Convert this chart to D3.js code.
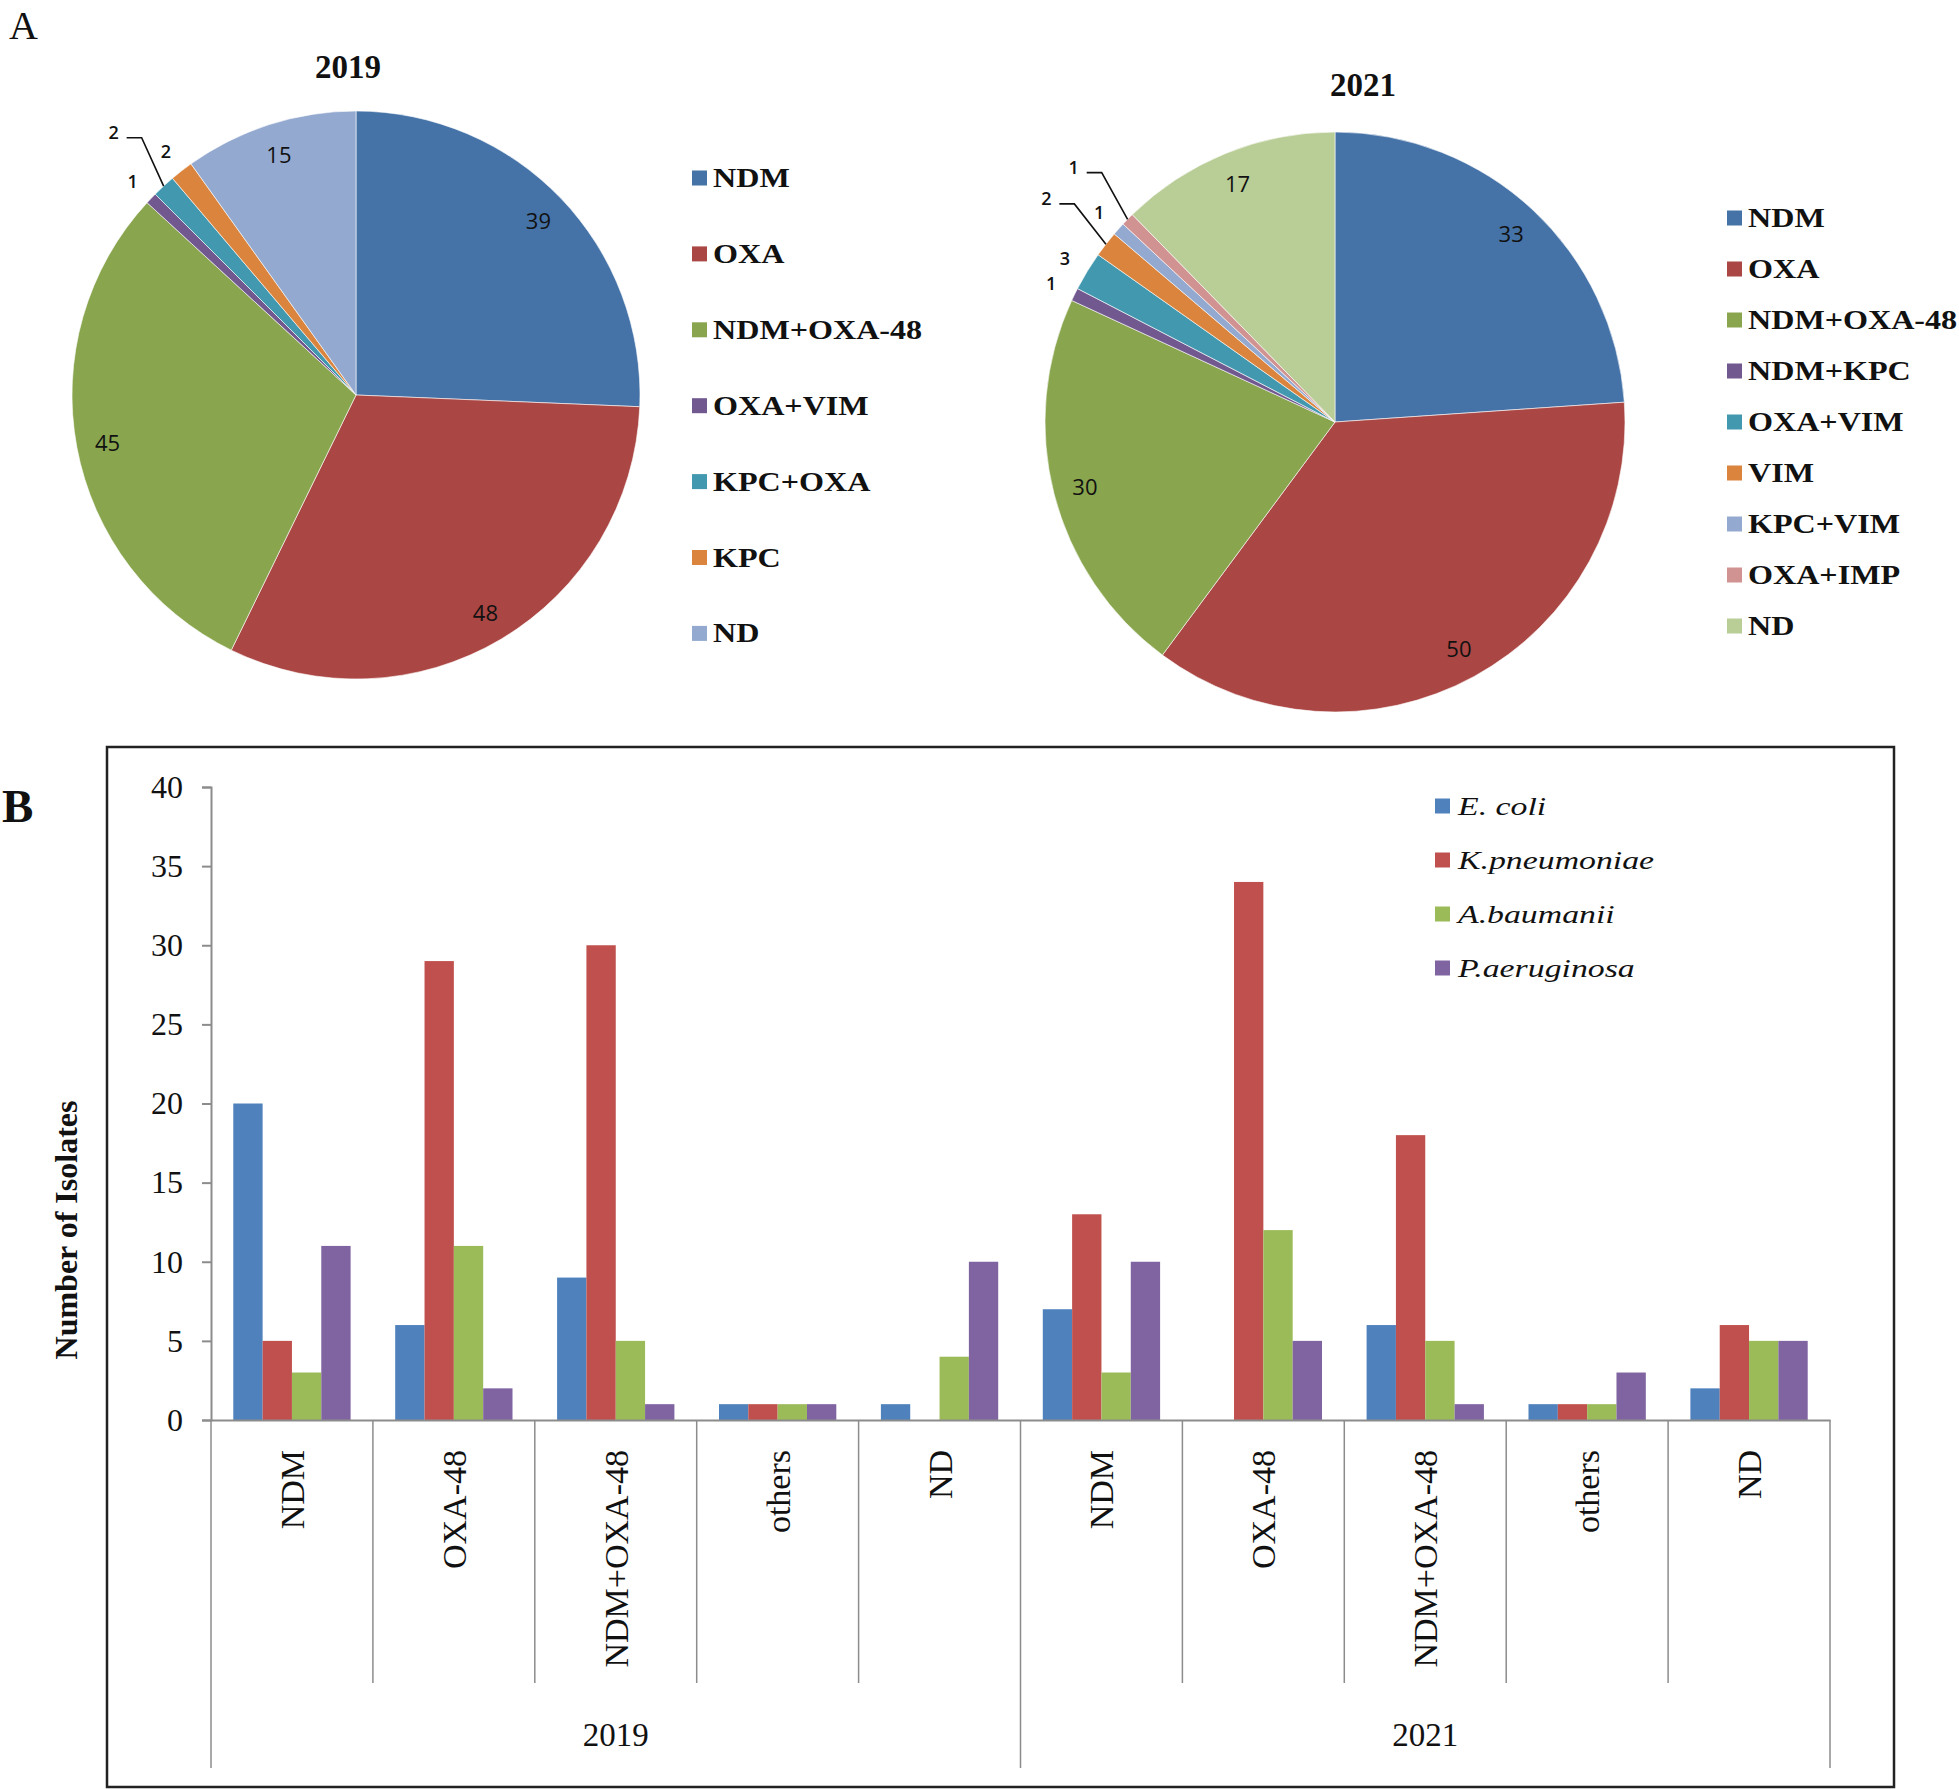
<!DOCTYPE html>
<html>
<head>
<meta charset="utf-8">
<script src="https://cdn.jsdelivr.net/npm/d3@7"></script>
<style>
  html, body { margin: 0; padding: 0; background: #fff; overflow: hidden; }
  svg { display: block; }
</style>
</head>
<body>
<script>
// ---------------- DATA ----------------
const pie2019Labels = ["NDM", "OXA", "NDM+OXA-48", "OXA+VIM", "KPC+OXA", "KPC", "ND"];
const pie2019Values = [39, 48, 45, 1, 2, 2, 15];
const pie2019Colors = ["#4572A7", "#AA4643", "#89A54E", "#71588F", "#4198AF", "#DB843D", "#93A9CF"];
const pie2019Leaders = ["KPC+OXA"];

const pie2021Labels = ["NDM", "OXA", "NDM+OXA-48", "NDM+KPC", "OXA+VIM", "VIM", "KPC+VIM", "OXA+IMP", "ND"];
const pie2021Values = [33, 50, 30, 1, 3, 2, 1, 1, 17];
const pie2021Colors = ["#4572A7", "#AA4643", "#89A54E", "#71588F", "#4198AF", "#DB843D", "#93A9CF", "#D19392", "#B9CD96"];
const pie2021Leaders = ["VIM", "OXA+IMP"];

const barYears = ["2019", "2021"];
const barGenes = ["NDM", "OXA-48", "NDM+OXA-48", "others", "ND"];
const species = ["E. coli", "K.pneumoniae", "A.baumanii", "P.aeruginosa"];
const speciesColors = ["#4F81BD", "#C0504D", "#9BBB59", "#8064A2"];
// values per category: 2019 NDM, OXA-48, NDM+OXA-48, others, ND, 2021 NDM, OXA-48, NDM+OXA-48, others, ND
const ecoliValues = [20, 6, 9, 1, 1, 7, 0, 6, 1, 2];
const kpneuValues = [5, 29, 30, 1, 0, 13, 34, 18, 1, 6];
const abaumValues = [3, 11, 5, 1, 4, 3, 12, 5, 1, 5];
const paerValues = [11, 2, 1, 1, 10, 10, 5, 1, 3, 5];
const yTicks = [0, 5, 10, 15, 20, 25, 30, 35, 40];

// ---------------- SETUP ----------------
const W = 1959, H = 1790;
const svg = d3.select("body").append("svg").attr("width", W).attr("height", H);
const SERIF = "'Liberation Serif', 'Times New Roman', serif";
const SANS = "'Open Sans', 'Liberation Sans', sans-serif";

function stext(parent, x, y, str, o) {
  o = o || {};
  const t = parent.append("text")
    .attr("transform", `translate(${x},${y})` + (o.rot ? ` rotate(${o.rot})` : "") + ` scale(${o.sx || 1},${o.sy || 1})`)
    .attr("font-family", o.family || SERIF)
    .attr("font-size", o.size || 20)
    .attr("font-weight", o.weight || "normal")
    .attr("font-style", o.style || "normal")
    .attr("text-anchor", o.anchor || "start")
    .attr("fill", o.fill || "#111")
    .text(str);
  if (o.baseline) t.attr("dominant-baseline", o.baseline);
  return t;
}

// ---------------- PANEL A ----------------
stext(svg, 9, 39, "A", { size: 40 });

function drawPie(cfg) {
  const g = svg.append("g").attr("transform", `translate(${cfg.cx},${cfg.cy})`);
  const data = cfg.labels.map((l, i) => ({ label: l, value: cfg.values[i], color: cfg.colors[i] }));
  const arcs = d3.pie().sort(null).value(d => d.value)(data);
  const arc = d3.arc().innerRadius(0).outerRadius(cfg.r);
  g.selectAll("path.slice").data(arcs).join("path")
    .attr("class", "slice")
    .attr("d", arc)
    .attr("fill", d => d.data.color)
    .attr("stroke", "#ffffff")
    .attr("stroke-width", 0.6);

  arcs.forEach(a => {
    const mid = (a.startAngle + a.endAngle) / 2;
    const dir = [Math.sin(mid), -Math.cos(mid)];
    const small = a.data.value < 5;
    const leader = cfg.leaders.includes(a.data.label);
    const k = small ? (leader ? 1.26 : 1.09) : 0.89;
    const lx = dir[0] * cfg.r * k, ly = dir[1] * cfg.r * k;
    stext(g, lx, ly, String(a.data.value), {
      family: SANS, size: small ? 18 : 22, anchor: "middle", baseline: "central",
      fill: "#111", weight: small ? "600" : "500"
    });
    if (leader) {
      const ex = dir[0] * cfg.r, ey = dir[1] * cfg.r;
      g.append("path")
        .attr("d", `M${lx + 13},${ly + 6}L${lx + 28},${ly + 6}L${ex},${ey}`)
        .attr("fill", "none").attr("stroke", "#111").attr("stroke-width", 1.6);
    }
  });

  stext(svg, cfg.titleX, cfg.titleY, cfg.title, { size: 33, weight: "bold", anchor: "middle" });

  const lg = svg.append("g");
  cfg.labels.forEach((l, i) => {
    const y = cfg.legY0 + i * cfg.legStep;
    lg.append("rect").attr("x", cfg.legX).attr("y", y - 7.5).attr("width", 15).attr("height", 15)
      .attr("fill", cfg.colors[i]);
    stext(lg, cfg.legX + 21, y + 9, l, { size: 27, weight: "bold", sx: 1.19 });
  });
}

drawPie({
  cx: 356, cy: 395, r: 284, labels: pie2019Labels, values: pie2019Values, colors: pie2019Colors,
  leaders: pie2019Leaders, title: "2019", titleX: 348, titleY: 78,
  legX: 692, legY0: 178, legStep: 75.9
});
drawPie({
  cx: 1335, cy: 422, r: 290, labels: pie2021Labels, values: pie2021Values, colors: pie2021Colors,
  leaders: pie2021Leaders, title: "2021", titleX: 1363, titleY: 96,
  legX: 1727, legY0: 218, legStep: 51
});

// ---------------- PANEL B ----------------
stext(svg, 2, 822, "B", { size: 47, weight: "bold" });

svg.append("rect").attr("x", 107).attr("y", 747).attr("width", 1787).attr("height", 1040)
  .attr("fill", "none").attr("stroke", "#222").attr("stroke-width", 2.5);

const plotL = 211, plotR = 1830, y0px = 1420, y40px = 787;
const categories = [];
barYears.forEach(y => barGenes.forEach(gn => categories.push(y + "|" + gn)));
const seriesValues = [ecoliValues, kpneuValues, abaumValues, paerValues];

const x0 = d3.scaleBand().domain(categories).range([plotL, plotR]).padding(0);
const bw = x0.bandwidth();
const x1 = d3.scaleBand().domain(species).range([bw * 0.1377, bw * 0.8623]).padding(0);
const y = d3.scaleLinear().domain([0, 40]).range([y0px, y40px]);

const AX = "#8c8c8c";

// bars
const bg = svg.append("g");
categories.forEach((c, ci) => {
  species.forEach((s, si) => {
    const v = seriesValues[si][ci];
    if (v <= 0) return;
    bg.append("rect")
      .attr("x", x0(c) + x1(s))
      .attr("y", y(v))
      .attr("width", x1.bandwidth())
      .attr("height", y(0) - y(v))
      .attr("fill", speciesColors[si]);
  });
});

// y axis
const yAxis = svg.append("g").attr("transform", `translate(${plotL},0)`)
  .call(d3.axisLeft(y).tickValues(yTicks).tickSize(9).tickPadding(19).tickFormat(d3.format("d")));
yAxis.select(".domain").attr("stroke", AX).attr("stroke-width", 2);
yAxis.selectAll(".tick line").attr("stroke", AX).attr("stroke-width", 2);
yAxis.selectAll(".tick text").attr("font-family", SERIF).attr("font-size", 32).attr("fill", "#111");

// x axis baseline
const xAxis = svg.append("g").attr("transform", `translate(0,${y0px})`)
  .call(d3.axisBottom(x0).tickSize(0).tickFormat(""));
xAxis.select(".domain").attr("stroke", AX).attr("stroke-width", 2);

// separators
const sepG = svg.append("g");
categories.forEach((c, i) => {
  const xs = x0(c);
  const outer = i % barGenes.length === 0;
  sepG.append("line").attr("x1", xs).attr("x2", xs).attr("y1", y0px).attr("y2", outer ? 1768 : 1683)
    .attr("stroke", AX).attr("stroke-width", 1.5);
});
sepG.append("line").attr("x1", plotR).attr("x2", plotR).attr("y1", y0px).attr("y2", 1768)
  .attr("stroke", AX).attr("stroke-width", 1.5);

// category labels
categories.forEach(c => {
  const cx = x0(c) + bw / 2;
  stext(svg, cx + 12, 1450, c.split("|")[1], { size: 34, anchor: "end", rot: -90 });
});
// year labels
barYears.forEach(yr => {
  const cats = categories.filter(c => c.startsWith(yr + "|"));
  const xs = (x0(cats[0]) + x0(cats[cats.length - 1]) + bw) / 2;
  stext(svg, xs, 1746, yr, { size: 33, anchor: "middle" });
});

// y axis title
stext(svg, 77, 1230, "Number of Isolates", { size: 32, weight: "bold", anchor: "middle", rot: -90 });

// legend
const lgB = svg.append("g");
species.forEach((s, i) => {
  const yy = 806 + i * 54;
  lgB.append("rect").attr("x", 1435).attr("y", yy - 7.5).attr("width", 15).attr("height", 15)
    .attr("fill", speciesColors[i]);
  stext(lgB, 1458, yy + 9, s, { size: 26, style: "italic", sx: 1.3 });
});
</script>
</body>
</html>
